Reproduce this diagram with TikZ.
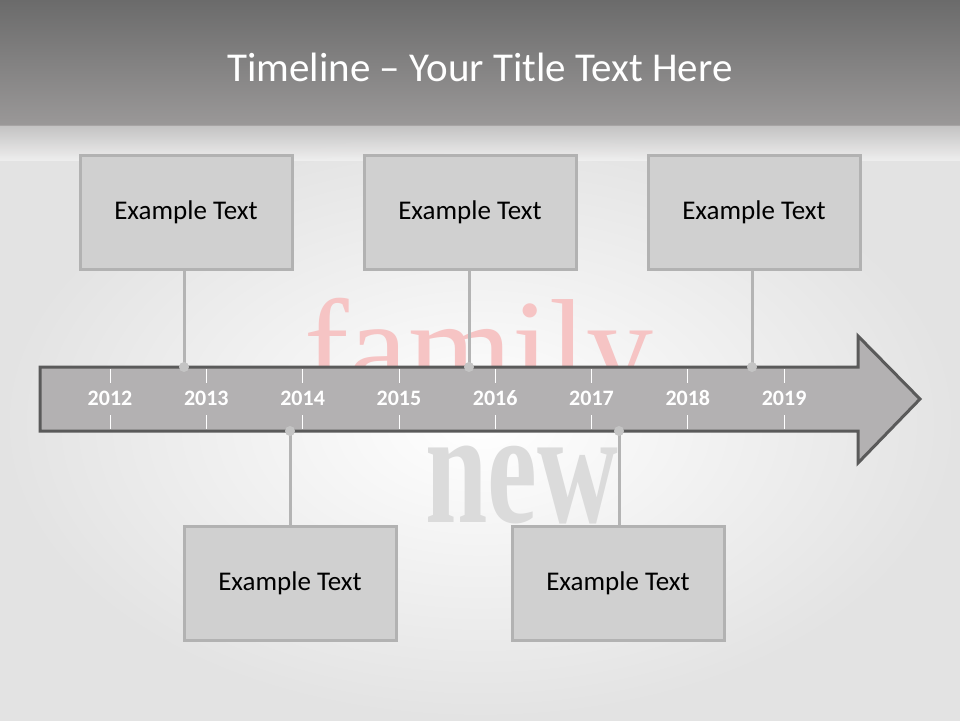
\documentclass[tikz,border=0pt]{standalone}
\usepackage{fontspec}
\setmainfont{Carlito}
\newfontfamily\serifface{Liberation Serif}
\definecolor{bandtop}{HTML}{6B6B6B}
\definecolor{bandbot}{HTML}{9A9898}
\definecolor{arrowfill}{HTML}{B3B1B2}
\definecolor{arrowline}{HTML}{5A5A5A}
\definecolor{boxfill}{HTML}{D0D0D0}
\definecolor{boxline}{HTML}{B2B2B2}
\definecolor{stemgray}{HTML}{B4B4B4}
\definecolor{dotgray}{HTML}{C4C4C4}
\definecolor{familypink}{HTML}{F6C4C4}
\begin{document}
\begin{tikzpicture}[x=1pt,y=-1pt,
    box/.style={draw=boxline,fill=boxfill,line width=3pt,minimum width=212pt,
      minimum height=114pt,font=\fontsize{27}{30}\selectfont,text=black},
    stem/.style={draw=stemgray,line width=3pt},
    dot/.style={circle,fill=dotgray,inner sep=0pt,minimum size=10pt},
    year/.style={anchor=base,font=\bfseries\fontsize{22}{24}\selectfont,text=white}]
  \useasboundingbox (0,0) rectangle (960,720);

  % background and title band
  \shade[inner color=white,outer color=black!11] (0,125) rectangle (960,720);
  \shade[top color=bandtop,bottom color=bandbot] (0,0) rectangle (960,125);
  \shade[top color=bandbot!80,bottom color=black!4,opacity=0.6] (0,125) rectangle (960,160);
  \node[text=white,font=\fontsize{41}{45}\selectfont] (title) at (480,67)
    {Timeline -- Your Title Text Here};

  % faint words behind the arrow
  \begin{scope}
    \clip (0,160) rectangle (960,367);
    \node[anchor=base,text=familypink,font=\serifface\fontsize{134}{136}\selectfont]
      (fam) at (479,392) {family};
  \end{scope}
  \node[anchor=base,yscale=1.45,text=black!14,font=\serifface\bfseries\fontsize{112}{114}\selectfont]
    (nw) at (522,522) {new};

  % arrow
  \draw[fill=arrowfill,draw=arrowline,line width=3pt,line join=miter]
    (40,367) -- (858,367) -- (858,336) -- (920,399) -- (858,463)
    -- (858,431) -- (40,431) -- cycle;

  % years and ticks
  \foreach \yr [count=\i from 0] in {2012,...,2019} {
    \pgfmathsetmacro{\xx}{110+96.3*\i}
    \draw[white,line width=0.8pt] (\xx,369) -- (\xx,383) (\xx,415) -- (\xx,429);
    \node[year] (y\yr) at (\xx,405) {\yr};
  }

  % dots on the arrow
  \coordinate (d1) at (184,367);
  \coordinate (d2) at (469,367);
  \coordinate (d3) at (752,367);
  \coordinate (d4) at (290,431);
  \coordinate (d5) at (619,431);

  % boxes
  \node[box] (b1) at (186,212) {Example Text};
  \node[box] (b2) at (470,212) {Example Text};
  \node[box] (b3) at (754,212) {Example Text};
  \node[box] (b4) at (290,583) {Example Text};
  \node[box] (b5) at (618,583) {Example Text};

  % stems
  \draw[stem] (b1.south -| d1) -- (d1);
  \draw[stem] (b2.south -| d2) -- (d2);
  \draw[stem] (b3.south -| d3) -- (d3);
  \draw[stem] (d4) -- (b4.north -| d4);
  \draw[stem] (d5) -- (b5.north -| d5);
  \foreach \d in {d1,d2,d3,d4,d5}
    \node[dot] at (\d) {};
\end{tikzpicture}
\end{document}
